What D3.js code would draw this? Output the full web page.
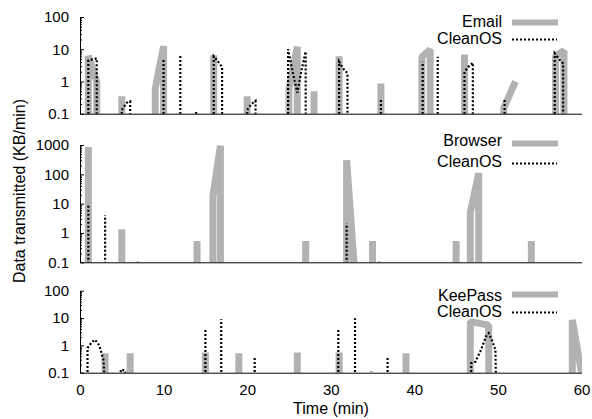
<!DOCTYPE html>
<html>
<head>
<meta charset="utf-8">
<script src="https://cdn.jsdelivr.net/npm/d3@7"></script>
<style>
  body { margin: 0; background: #fff; }
  svg { display: block; font-family: "Liberation Sans", Arial, sans-serif; }
</style>
</head>
<body>
<svg id="chart" width="592" height="419"></svg>
<script>
// time axis (minutes)
const timeDomain = [0, 60];
const timeTicks = [0, 10, 20, 30, 40, 50, 60];

const appNames = ['Email', 'Browser', 'KeePass'];
const cleanName = 'CleanOS';
const yMax = [100, 1000, 100];

// each run is a list of [minute, KB/min]; 0 = nothing sent
const emailRuns = [
    [[1, 0], [1, 6.2], [2, 1.0], [2, 0]],
    [[5, 0], [5, 0.35]],
    [[9, 0], [9, 0.6], [10, 12.5], [10, 0]],
    [[16, 0], [16, 6.5]],
    [[20, 0], [20, 0.35]],
    [[25, 0], [25, 0.6], [26, 12], [26, 0]],
    [[28, 0], [28, 0.5]],
    [[31, 0], [31, 6.1]],
    [[36, 0], [36, 0.87]],
    [[40.9, 0], [40.9, 5.8], [41.9, 9.8], [41.9, 0]],
    [[46, 0], [46, 6.9]],
    [[50.7, 0], [50.7, 0.15], [52.1, 1.0]],
    [[56.9, 0], [56.9, 6.2], [57.9, 9], [57.9, 0]]
];
const emailCleanRuns = [
    [[1, 0], [1, 4.5], [2, 5.2], [2, 0]],
    [[5, 0], [5, 0.13], [5.6, 0.22], [6, 0.24], [6, 0]],
    [[10, 0], [10, 4.6]],
    [[12, 0], [12, 6.2]],
    [[13.9, 0], [13.9, 0.13]],
    [[16, 0], [16, 6], [16.5, 4.2], [17, 2.8], [17, 0]],
    [[20, 0], [20, 0.13], [20.5, 0.2], [21, 0.25], [21, 0]],
    [[24.9, 0], [24.9, 10], [25.4, 2.2], [26, 0.45], [26.5, 2.2], [27, 8.5], [27, 0]],
    [[31, 0], [31, 4.1], [31.5, 2.5], [32, 1.8], [32, 0]],
    [[36, 0], [36, 0.28]],
    [[41, 0], [41, 4.1]],
    [[42.8, 0], [42.8, 5.8]],
    [[46, 0], [46, 2], [46.5, 2.9], [47, 3.8], [47, 0]],
    [[50.8, 0], [50.8, 0.27]],
    [[56.8, 0], [56.8, 7.5], [57.3, 5], [57.8, 3.6], [57.8, 0]]
];

const browserRuns = [
    [[1, 0], [1, 850]],
    [[5, 0], [5, 1.35]],
    [[14, 0], [14, 0.53]],
    [[15.9, 0], [15.9, 18], [16.8, 950], [16.8, 0]],
    [[27, 0], [27, 0.53]],
    [[31.9, 0], [31.9, 300], [32.8, 0.08]],
    [[35, 0], [35, 0.53]],
    [[45, 0], [45, 0.53]],
    [[46.7, 0], [46.7, 5], [47.7, 110], [47.7, 0]],
    [[54, 0], [54, 0.53]]
];
const browserCleanRuns = [
    [[1, 0], [1, 10]],
    [[3, 0], [3, 4]],
    [[6.9, 0], [6.9, 0.12]],
    [[31.9, 0], [31.9, 2.1]],
    [[35.8, 0], [35.8, 0.12]]
];

const keepassRuns = [
    [[3, 0], [3, 0.51]],
    [[6, 0], [6, 0.51]],
    [[15, 0], [15, 0.55]],
    [[19, 0], [19, 0.51]],
    [[26, 0], [26, 0.55]],
    [[31, 0], [31, 0.55]],
    [[39, 0], [39, 0.51]],
    [[46.7, 0], [46.7, 7.4], [48.9, 5.5], [48.9, 0]],
    [[58.9, 0], [58.9, 8.5], [60, 0.1]]
];
const keepassCleanRuns = [
    [[0.9, 0], [0.9, 0.8], [1.4, 1.3], [1.8, 1.6], [2.3, 1.0], [2.8, 0.3], [3.1, 0]],
    [[4.5, 0], [4.9, 0.13], [5.4, 0.12], [5.6, 0]],
    [[15, 0], [15, 4.2]],
    [[16.9, 0], [16.9, 9]],
    [[20.9, 0], [20.9, 0.37]],
    [[30.9, 0], [30.9, 4.2]],
    [[32.9, 0], [32.9, 9.8]],
    [[34.85, 0], [34.85, 0.11]],
    [[36.8, 0], [36.8, 0.37]],
    [[46.8, 0], [46.8, 0.22], [47.3, 0.25], [47.9, 0.6], [48.6, 2.2], [48.9, 2.8], [49.3, 1.5], [49.7, 0.7], [49.8, 0]]
];

const appRuns = [emailRuns, browserRuns, keepassRuns];
const cleanRuns = [emailCleanRuns, browserCleanRuns, keepassCleanRuns];

// layout of the three stacked plots
const panels = [
    {top: 17, bottom: 113.7, key: [21.5, 22.5, 38, 39.5]},
    {top: 145, bottom: 262.3, key: [140, 143.5, 161, 163.5]},
    {top: 290.7, bottom: 372.7, key: [295, 294.5, 311.5, 312.5]}
];
const gray = '#b2b2b2';
const floorVal = 0.01;

const svg = d3.select('#chart');
const x = d3.scaleLinear().domain(timeDomain).range([80, 581.5]);

panels.forEach(function (p, i) {
    const y = d3.scaleLog().domain([0.1, yMax[i]]).range([p.bottom, p.top]);
    const g = svg.append('g');

    g.append('clipPath').attr('id', 'clip' + i)
        .append('rect')
        .attr('x', 80).attr('y', p.top)
        .attr('width', 502).attr('height', p.bottom - p.top);

    const line = d3.line()
        .x(d => x(d[0]))
        .y(d => y(Math.max(d[1], floorVal)));

    const plot = g.append('g').attr('clip-path', 'url(#clip' + i + ')');

    plot.selectAll('path.app')
        .data(appRuns[i])
        .join('path')
        .attr('class', 'app')
        .attr('d', line)
        .attr('fill', 'none')
        .attr('stroke', gray)
        .attr('stroke-width', 7)
        .attr('stroke-linejoin', 'bevel');

    plot.selectAll('path.clean')
        .data(cleanRuns[i])
        .join('path')
        .attr('class', 'clean')
        .attr('d', line)
        .attr('fill', 'none')
        .attr('stroke', '#000')
        .attr('stroke-width', 2.2)
        .attr('stroke-dasharray', '2,2');

    // log axis: decades labelled, 2..9 as small ticks
    const nDec = Math.round(Math.log10(yMax[i])) + 1;
    const majors = d3.range(nDec + 1).map(k => Math.pow(10, k - 1));
    const minors = [];
    for (let k = 0; k < nDec; k++) {
        for (let m = 2; m < 10; m++) minors.push(m * Math.pow(10, k - 1));
    }

    g.append('g')
        .attr('transform', 'translate(80,0)')
        .call(d3.axisLeft(y).tickValues(minors).tickFormat('').tickSizeInner(-2).tickSizeOuter(0))
        .call(a => a.select('.domain').remove());

    g.append('g')
        .attr('transform', 'translate(80,0)')
        .call(d3.axisLeft(y).tickValues(majors).tickFormat(d3.format('~g'))
            .tickSizeInner(-4).tickSizeOuter(0).tickPadding(11))
        .attr('font-size', 15)
        .attr('font-family', null);

    const xa = g.append('g').attr('transform', 'translate(0,' + p.bottom + ')');
    if (i === panels.length - 1) {
        xa.call(d3.axisBottom(x).tickValues(timeTicks).tickSize(0).tickPadding(12))
            .attr('font-size', 15)
            .attr('font-family', null);
    } else {
        xa.call(d3.axisBottom(x).tickValues([]).tickSizeOuter(0));
    }

    // key
    const key = g.append('g').attr('font-size', 16);
    key.append('text').attr('x', 502).attr('y', p.key[0]).attr('dy', '0.35em')
        .attr('text-anchor', 'end').text(appNames[i]);
    key.append('line').attr('x1', 512).attr('x2', 558)
        .attr('y1', p.key[1]).attr('y2', p.key[1])
        .attr('stroke', gray).attr('stroke-width', 6);
    key.append('text').attr('x', 502).attr('y', p.key[2]).attr('dy', '0.35em')
        .attr('text-anchor', 'end').text(cleanName);
    key.append('line').attr('x1', 512).attr('x2', 557)
        .attr('y1', p.key[3]).attr('y2', p.key[3])
        .attr('stroke', '#000').attr('stroke-width', 2)
        .attr('stroke-dasharray', '2,2');
});

svg.append('text')
    .attr('transform', 'translate(19,191) rotate(-90)')
    .attr('dy', '0.35em')
    .attr('text-anchor', 'middle')
    .attr('font-size', 16)
    .text('Data transmitted (KB/min)');

svg.append('text')
    .attr('x', 331).attr('y', 414)
    .attr('text-anchor', 'middle')
    .attr('font-size', 16)
    .text('Time (min)');
</script>
</body>
</html>
